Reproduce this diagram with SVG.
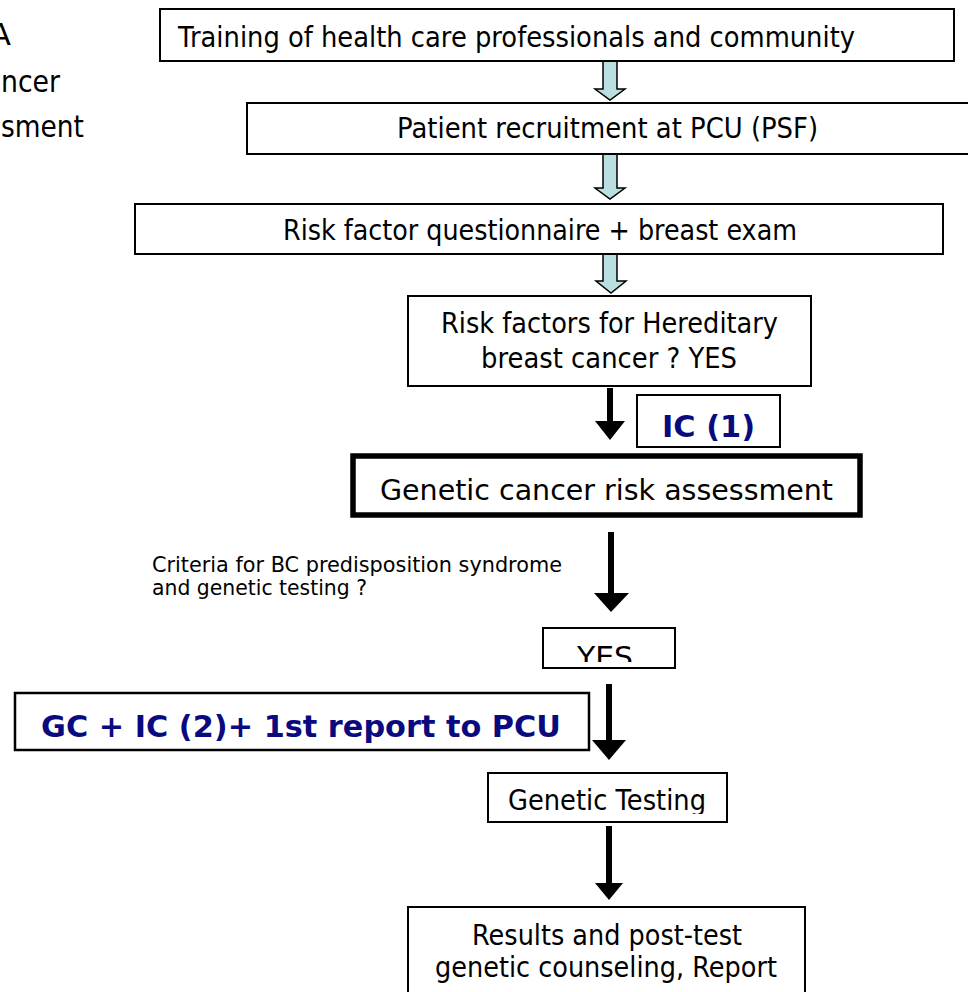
<svg xmlns="http://www.w3.org/2000/svg" width="968" height="992" viewBox="0 0 968 992">
<style>
.box{fill:#fff;stroke:#000;stroke-width:2}
.t{font-family:"DejaVu Sans","Liberation Sans",sans-serif;font-size:29px;fill:#000}
.s{font-family:"DejaVu Sans","Liberation Sans",sans-serif;font-size:22px;fill:#000}
.b{font-family:"DejaVu Sans","Liberation Sans",sans-serif;font-weight:bold;fill:#0a0a80}
.side{font-family:"DejaVu Sans","Liberation Sans",sans-serif;font-size:31px;fill:#000}
.hollow{fill:#b9dfe0;stroke:#000;stroke-width:1.5;stroke-linejoin:miter}
.shaft{stroke:#000;stroke-width:6;fill:none}
.head{fill:#000;stroke:none}
</style>
<defs>
<clipPath id="clipYes"><rect x="540" y="620" width="140" height="42"/></clipPath>
<clipPath id="clipGT"><rect x="486" y="770" width="245" height="44"/></clipPath>
</defs>
<rect width="968" height="992" fill="#fff"/>

<g id="side-title">
<text class="side" x="11" y="45" text-anchor="end">A</text>
<text class="side" x="1" y="92" textLength="59" lengthAdjust="spacingAndGlyphs">ncer</text>
<text class="side" x="1" y="137" textLength="83" lengthAdjust="spacingAndGlyphs">sment</text>
</g>

<g id="connectors">
<path class="hollow" d="M603,61 L617,61 L617,89 L625,89 L610,100 L595,89 L603,89 Z"/>
<path class="hollow" d="M603,154 L617,154 L617,188 L625,188 L610,199 L595,188 L603,188 Z"/>
<path class="hollow" d="M603,254 L617,254 L617,281 L626,281 L611,293 L596,281 L603,281 Z"/>
<line class="shaft" x1="610" y1="388" x2="610" y2="424"/>
<path class="head" d="M595,421 L625,421 L610,440 Z"/>
<line class="shaft" x1="611" y1="532" x2="611" y2="596"/>
<path class="head" d="M594,593 L629,593 L611,612 Z"/>
<line class="shaft" x1="609" y1="684" x2="609" y2="744"/>
<path class="head" d="M592,740 L626,740 L609,760 Z"/>
<line class="shaft" x1="609" y1="826" x2="609" y2="886"/>
<path class="head" d="M595,883 L623,883 L609,900 Z"/>
</g>

<g id="n-training">
<rect class="box" x="160" y="9" width="794" height="52"/>
<text class="t" x="178" y="47" textLength="677" lengthAdjust="spacingAndGlyphs">Training of health care professionals and community</text>
</g>

<g id="n-recruitment">
<rect class="box" x="247" y="103" width="740" height="51"/>
<text class="t" x="397" y="138" textLength="421" lengthAdjust="spacingAndGlyphs">Patient recruitment at PCU (PSF)</text>
</g>

<g id="n-questionnaire">
<rect class="box" x="135" y="204" width="808" height="50"/>
<text class="t" x="283" y="240" textLength="514" lengthAdjust="spacingAndGlyphs">Risk factor questionnaire + breast exam</text>
</g>

<g id="n-riskfactors">
<rect class="box" x="408" y="296" width="403" height="90"/>
<text class="t" x="441" y="333" textLength="337" lengthAdjust="spacingAndGlyphs">Risk factors for Hereditary</text>
<text class="t" x="481" y="368" textLength="256" lengthAdjust="spacingAndGlyphs">breast cancer ? YES</text>
</g>

<g id="n-ic1">
<rect class="box" x="637" y="395" width="143" height="52"/>
<text class="b" x="662" y="437" font-size="31" textLength="93" lengthAdjust="spacingAndGlyphs">IC (1)</text>
</g>

<g id="n-assessment">
<rect x="353" y="456" width="507" height="59" fill="#fff" stroke="#000" stroke-width="5.5"/>
<text class="t" x="380" y="500" font-size="33" textLength="453" lengthAdjust="spacingAndGlyphs">Genetic cancer risk assessment</text>
</g>

<g id="n-criteria">
<text class="s" x="152" y="572" textLength="410" lengthAdjust="spacingAndGlyphs">Criteria for BC predisposition syndrome</text>
<text class="s" x="152" y="595" textLength="215" lengthAdjust="spacingAndGlyphs">and genetic testing ?</text>
</g>

<g id="n-yes">
<rect class="box" x="543" y="628" width="132" height="40"/>
<text class="t" x="577" y="667" textLength="56" lengthAdjust="spacingAndGlyphs" clip-path="url(#clipYes)">YES</text>
</g>

<g id="n-gc">
<rect x="15" y="693" width="574" height="57" fill="#fff" stroke="#000" stroke-width="2.5"/>
<text class="b" x="41" y="737" font-size="30" textLength="520" lengthAdjust="spacingAndGlyphs">GC + IC (2)+ 1st report to PCU</text>
</g>

<g id="n-testing">
<rect class="box" x="488" y="773" width="239" height="49"/>
<text class="t" x="508" y="810" textLength="198" lengthAdjust="spacingAndGlyphs" clip-path="url(#clipGT)">Genetic Testing</text>
</g>

<g id="n-results">
<rect class="box" x="408" y="907" width="397" height="100"/>
<text class="t" x="472" y="945" textLength="270" lengthAdjust="spacingAndGlyphs">Results and post-test</text>
<text class="t" x="435" y="977" textLength="342" lengthAdjust="spacingAndGlyphs">genetic counseling, Report</text>
</g>
</svg>
